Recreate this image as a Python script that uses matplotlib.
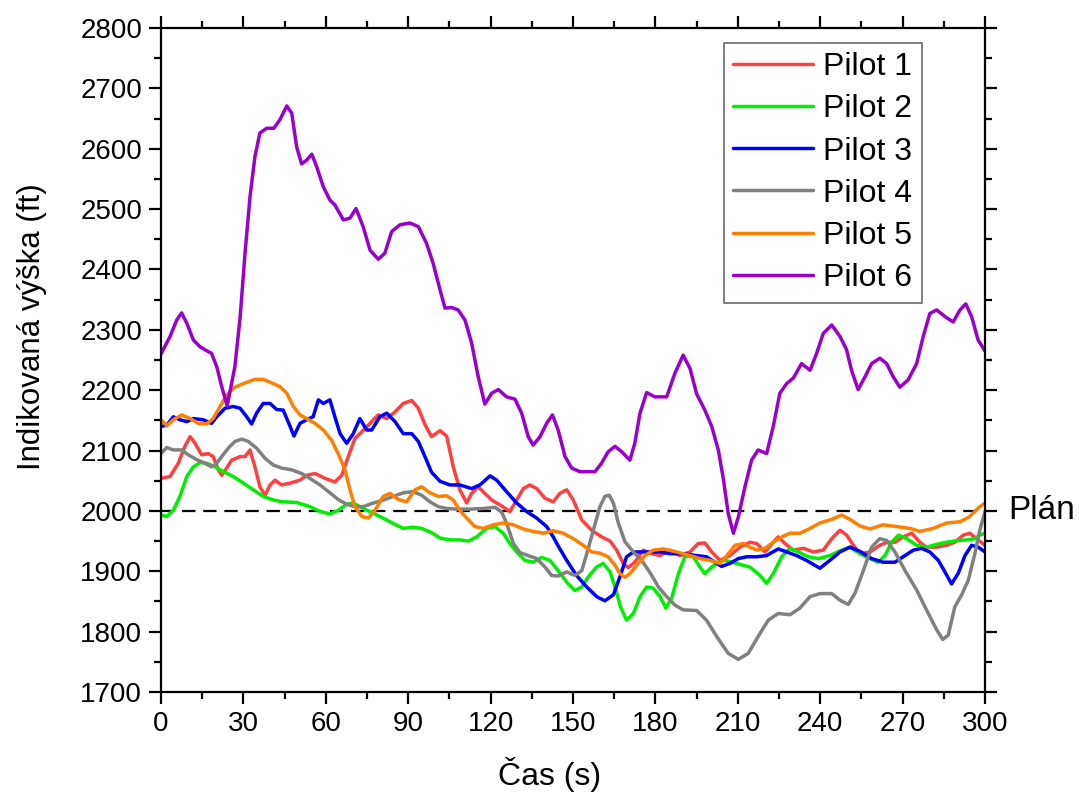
import matplotlib
matplotlib.use("Agg")
import matplotlib.pyplot as plt
from matplotlib.ticker import MultipleLocator

plt.rcParams['font.family'] = ['Liberation Sans', 'DejaVu Sans']

# ---------------- data ----------------
t1 = [0, 3.3, 6.3, 8.7, 10.6, 12.4, 14.8, 17.2, 19, 20.9,
      22.1, 23.9, 25.7, 28.8, 30.6, 32.4, 34.2, 36, 37.9, 39.7,
      41.5, 43.9, 47, 50.6, 53, 56.1, 59.7, 63.3, 65.8, 68.2,
      70.6, 73.1, 76.1, 79.1, 82.2, 85.2, 88.2, 91.3, 93.7, 96.1,
      98.5, 101.6, 104, 106.4, 108.8, 111.3, 113.1, 115.5, 117.9, 120.4,
      123.4, 127, 129.5, 131.9, 134.3, 136.8, 139.8, 142.8, 145.2, 147.7,
      150.1, 153.2, 156.8, 160.4, 163.5, 165.9, 168.3, 170.1, 172.5, 175.6,
      178, 181.7, 185.3, 188.9, 192.6, 195.6, 198, 200.5, 203.5, 207.1,
      210.8, 214.4, 216.9, 219.9, 222.9, 224.7, 227.2, 230.2, 233.9, 237.5,
      241.1, 244.2, 247.2, 249.6, 252.1, 254.5, 258.1, 261.7, 264.2, 267.2,
      270.2, 273.3, 276.3, 278.7, 282.4, 286, 289, 292.1, 294.5, 296.9,
      300]
alt1 = [2054, 2057, 2079, 2107, 2123, 2112, 2093, 2095, 2090, 2068,
        2059, 2071, 2084, 2090, 2090, 2101, 2073, 2040, 2026, 2043,
        2051, 2043, 2046, 2051, 2059, 2062, 2054, 2048, 2059, 2090,
        2120, 2131, 2145, 2159, 2153, 2164, 2178, 2183, 2170, 2143,
        2123, 2133, 2124, 2073, 2035, 2013, 2029, 2040, 2029, 2018,
        2010, 1999, 2018, 2037, 2043, 2037, 2021, 2015, 2029, 2035,
        2018, 1985, 1968, 1957, 1950, 1935, 1913, 1906, 1915, 1935,
        1930, 1926, 1935, 1926, 1932, 1946, 1947, 1932, 1918, 1926,
        1940, 1948, 1946, 1932, 1948, 1957, 1946, 1935, 1938, 1932,
        1935, 1954, 1968, 1960, 1943, 1929, 1932, 1943, 1948, 1948,
        1957, 1963, 1948, 1940, 1940, 1943, 1948, 1960, 1963, 1954,
        1943]

t2 = [0, 2.1, 4.5, 6.9, 9.4, 11.8, 14.2, 16.6, 19.7, 22.7,
      26.3, 30, 33.6, 37.2, 40.9, 44.5, 49.4, 54.2, 57.9, 61.5,
      64.5, 67.6, 70, 73.6, 77.3, 80.9, 84.6, 88.2, 91.8, 94.9,
      98.5, 101.6, 105.2, 108.8, 111.9, 114.9, 118.6, 121.6, 124.6, 127,
      129.5, 132.5, 135.5, 138.6, 141.6, 144.6, 147.7, 150.7, 153.2, 155.6,
      158.6, 161, 163.5, 165.3, 167.3, 169.5, 172, 174.4, 176.8, 179.2,
      181.7, 183.8, 185.9, 188.3, 190.8, 193.8, 196.2, 198, 200.5, 202.9,
      205.4, 209.6, 214.4, 218.1, 220.5, 222.9, 226, 229, 232, 235.7,
      239.3, 243.5, 247.8, 250.8, 254.5, 258.1, 261.1, 263.6, 266, 268.5,
      271.5, 275.1, 278.7, 283.6, 288.4, 293.3, 296.3, 298.1, 300]
alt2 = [1993, 1991, 2001, 2024, 2057, 2073, 2080, 2079, 2073, 2065,
        2057, 2046, 2035, 2024, 2018, 2015, 2014, 2007, 1999, 1995,
        2001, 2011, 2013, 2004, 1996, 1988, 1979, 1971, 1973, 1971,
        1964, 1955, 1952, 1952, 1950, 1957, 1971, 1974, 1963, 1946,
        1932, 1918, 1915, 1923, 1918, 1901, 1882, 1868, 1874, 1891,
        1907, 1913, 1899, 1874, 1841, 1819, 1830, 1858, 1874, 1872,
        1858, 1839, 1855, 1895, 1925, 1924, 1907, 1896, 1907, 1915,
        1918, 1913, 1907, 1893, 1880, 1896, 1924, 1938, 1932, 1924,
        1921, 1926, 1935, 1940, 1929, 1921, 1915, 1926, 1948, 1960,
        1954, 1943, 1940, 1946, 1950, 1952, 1954, 1960, 1963]

t3 = [0, 2.1, 4.5, 6.9, 9.4, 11.8, 15.4, 18.4, 20.3, 23.3,
      26.3, 28.8, 31.2, 33, 34.8, 37.2, 39.7, 42.1, 44.5, 47,
      48.4, 50.6, 53, 55.4, 57.3, 59.1, 61.5, 63.3, 65.2, 67.6,
      70, 72.4, 74.9, 76.7, 79.7, 82.2, 85.2, 88.2, 91.3, 93.7,
      96.1, 98.5, 101.6, 105.2, 108.8, 113.1, 116.1, 119.8, 122.2, 125.8,
      129.5, 133.1, 136.8, 140.4, 142.8, 144.6, 147.7, 151.3, 155, 158.6,
      161.6, 164.7, 167.1, 169.5, 172, 175.6, 179.2, 181.7, 185.3, 190.1,
      195, 198.6, 201.7, 204.1, 207.1, 210.2, 213.2, 216.9, 220.5, 224.7,
      227.8, 231.4, 235, 239.9, 243.5, 247.2, 250.8, 254.5, 258.7, 262.9,
      267.2, 270.2, 273.9, 276.9, 279.9, 283, 285.4, 287.8, 290.3, 292.7,
      295.1, 297.5, 300]
alt3 = [2140, 2142, 2156, 2151, 2148, 2153, 2151, 2145, 2156, 2170,
        2173, 2170, 2156, 2144, 2162, 2178, 2178, 2168, 2167, 2140,
        2124, 2145, 2151, 2156, 2184, 2178, 2184, 2156, 2128, 2112,
        2128, 2153, 2134, 2134, 2156, 2162, 2148, 2128, 2128, 2115,
        2090, 2064, 2049, 2043, 2043, 2037, 2043, 2058, 2051, 2032,
        2013, 1999, 1988, 1974, 1957, 1942, 1918, 1893, 1874, 1858,
        1851, 1861, 1891, 1924, 1932, 1932, 1932, 1932, 1929, 1929,
        1926, 1924, 1915, 1908, 1913, 1921, 1924, 1924, 1926, 1937,
        1932, 1926, 1918, 1905, 1918, 1932, 1940, 1933, 1921, 1915,
        1915, 1924, 1935, 1938, 1932, 1918, 1899, 1879, 1897, 1926,
        1943, 1940, 1932]

t4 = [0, 2.1, 4.5, 7.5, 9.9, 13, 16, 18.4, 20.3, 22.1,
      24.5, 26.9, 29.4, 31.8, 34.8, 37.9, 40.9, 43.9, 47.6, 51.2,
      54.2, 57.9, 61.5, 64.5, 67.6, 70.6, 73.6, 77.3, 80.9, 84.6,
      88.2, 91.8, 94.9, 97.9, 101, 104, 107.6, 112.5, 117.3, 121.6,
      124, 125.8, 128.3, 130.7, 133.7, 136.8, 139.8, 142.2, 144.6, 147.7,
      150.7, 153.2, 155, 157.4, 159.8, 161.6, 163.2, 164.7, 166.5, 168.9,
      172, 175, 178, 181.1, 184.1, 187.1, 190.1, 195, 198.6, 202.3,
      206.5, 210.2, 213.8, 217.4, 221.1, 224.7, 229, 232.6, 236.3, 239.9,
      244.2, 247.2, 250.2, 252.6, 255.7, 258.7, 261.7, 264.2, 267.2, 270.9,
      275.1, 278.7, 282.4, 284.6, 286.6, 289, 291.5, 293.9, 296.3, 298.1,
      300]
alt4 = [2095, 2105, 2101, 2101, 2093, 2085, 2079, 2073, 2079, 2090,
        2104, 2115, 2119, 2115, 2104, 2087, 2076, 2071, 2068, 2062,
        2054, 2043, 2030, 2019, 2011, 2007, 2007, 2013, 2018, 2024,
        2030, 2032, 2026, 2015, 2007, 2004, 2003, 2003, 2004, 2006,
        1998, 1980, 1946, 1931, 1926, 1921, 1907, 1893, 1892, 1899,
        1893, 1901, 1929, 1968, 2007, 2024, 2026, 2013, 1980, 1949,
        1932, 1918, 1898, 1874, 1858, 1844, 1836, 1835, 1819, 1792,
        1764, 1754, 1764, 1792, 1819, 1830, 1828, 1839, 1858, 1863,
        1863, 1852, 1845, 1863, 1901, 1940, 1954, 1951, 1932, 1901,
        1869, 1836, 1803, 1787, 1794, 1841, 1861, 1885, 1929, 1968,
        1999]

t5 = [0, 2.1, 4.5, 7.5, 10.6, 13.6, 16.6, 19, 21.5, 23.9,
      26.9, 30.6, 34.2, 37.2, 40.3, 43.3, 45.8, 48.2, 50.6, 53,
      56.1, 59.1, 62.1, 64.5, 67, 68.8, 70.6, 73.1, 75.5, 77.9,
      80.9, 83.4, 86.4, 89.4, 92.5, 94.9, 97.9, 101, 104, 106.4,
      108.8, 111.3, 114.3, 117.3, 121, 124.6, 128.3, 131.9, 135.5, 139.2,
      142.8, 146.5, 150.1, 153.7, 156.8, 159.8, 162.8, 165.3, 167.1, 168.9,
      170.7, 173.2, 176.2, 179.2, 182.9, 187.7, 192.6, 196.2, 199.9, 203.5,
      206, 209, 212, 214.4, 216.9, 219.9, 222.9, 226, 229, 232.6,
      236.3, 239.9, 244.2, 247.8, 250.8, 254.5, 258.1, 262.9, 267.8, 272.7,
      276.3, 281.1, 286, 290.9, 293.9, 296.3, 298.1, 300]
alt5 = [2151, 2141, 2151, 2159, 2153, 2145, 2144, 2153, 2173, 2192,
        2205, 2212, 2218, 2218, 2212, 2206, 2195, 2173, 2159, 2153,
        2145, 2134, 2117, 2095, 2068, 2035, 2007, 1991, 1988, 2001,
        2024, 2029, 2019, 2015, 2035, 2040, 2030, 2024, 2025, 2018,
        2001, 1988, 1974, 1971, 1977, 1980, 1977, 1970, 1966, 1963,
        1967, 1963, 1954, 1943, 1932, 1930, 1924, 1910, 1896, 1890,
        1896, 1910, 1926, 1935, 1937, 1932, 1926, 1921, 1918, 1913,
        1926, 1943, 1946, 1940, 1935, 1938, 1948, 1957, 1963, 1963,
        1971, 1980, 1986, 1993, 1986, 1975, 1970, 1977, 1974, 1971,
        1966, 1971, 1980, 1982, 1989, 1999, 2007, 2013]

t6 = [0, 3.3, 5.7, 7.5, 9.4, 11.8, 14.2, 16, 18.4, 20.3,
      22.1, 24.1, 26.9, 28.8, 30.6, 32.4, 34.2, 36, 38.5, 41.1,
      43.3, 45.8, 47.6, 49.4, 51.2, 53, 54.9, 56.7, 59.1, 61.5,
      63.3, 66.4, 68.8, 71, 73.6, 76.1, 79.1, 81.5, 84, 87,
      90.6, 93.7, 96.7, 99.1, 101.6, 103.4, 105.8, 108.2, 110.7, 113.1,
      115.5, 117.9, 120.4, 122.8, 125.8, 128.9, 131.3, 133.7, 135.5, 138,
      140.4, 142.5, 144.6, 147.1, 149.5, 152.5, 155.6, 158, 160.4, 162.8,
      165.3, 167.7, 170.7, 172.5, 174.4, 176.8, 179.8, 184.1, 187.1, 190.1,
      192.6, 195, 198, 200.5, 202.9, 204.8, 206.5, 208.4, 210.2, 212.6,
      215, 217.4, 220.5, 222.9, 225.3, 227.8, 230.2, 233.2, 236.3, 238.7,
      241.1, 244.2, 247.2, 249.6, 251.4, 253.8, 256.3, 258.7, 261.7, 264.2,
      266.6, 269, 272, 275.1, 277.5, 279.9, 282.4, 285.4, 288.4, 290.9,
      293, 295.1, 297.5, 300]
alt6 = [2260, 2289, 2316, 2328, 2311, 2283, 2272, 2267, 2261, 2239,
        2206, 2174, 2239, 2320, 2427, 2520, 2587, 2626, 2634, 2634,
        2648, 2671, 2659, 2603, 2575, 2581, 2591, 2570, 2537, 2515,
        2507, 2482, 2485, 2501, 2471, 2432, 2417, 2427, 2463, 2474,
        2477, 2471, 2443, 2410, 2366, 2336, 2337, 2333, 2316, 2278,
        2222, 2177, 2195, 2201, 2189, 2185, 2162, 2123, 2109, 2123,
        2145, 2159, 2134, 2090, 2071, 2065, 2065, 2065, 2079, 2098,
        2107, 2098, 2084, 2112, 2162, 2196, 2189, 2189, 2228, 2258,
        2236, 2194, 2167, 2140, 2101, 2051, 1996, 1963, 1990, 2040,
        2084, 2101, 2095, 2140, 2195, 2211, 2220, 2244, 2233, 2261,
        2294, 2308, 2289, 2267, 2233, 2201, 2222, 2244, 2253, 2244,
        2222, 2205, 2217, 2244, 2289, 2327, 2333, 2322, 2313, 2333,
        2343, 2322, 2283, 2265]

labels = ["Pilot 1", "Pilot 2", "Pilot 3", "Pilot 4", "Pilot 5", "Pilot 6"]
plan_value = 2000
x_ticks = [0, 30, 60, 90, 120, 150, 180, 210, 240, 270, 300]
y_ticks = [1700, 1800, 1900, 2000, 2100, 2200, 2300, 2400, 2500, 2600, 2700, 2800]

# ---------------- style ----------------
colors = ["#ff4040", "#00ee00", "#0000ff", "#808080", "#ff8000", "#9900cc"]
series = [(t1, alt1), (t2, alt2), (t3, alt3), (t4, alt4), (t5, alt5), (t6, alt6)]

fig = plt.figure(figsize=(10.79, 8.01), dpi=100)
ax = fig.add_axes([0.1492, 0.1361, 0.7637, 0.8289])

for (tt, aa), c, lab in zip(series, colors, labels):
    ax.plot(tt, aa, color=c, lw=2.5, label=lab,
            solid_joinstyle='round', solid_capstyle='round')

ax.axhline(plan_value, color='black', lw=1.6, dashes=(6, 3.5), zorder=1)
ax.text(1.028, (plan_value - 1700) / 1100, "Plán", transform=ax.transAxes,
        fontsize=24, va='center', ha='left')

ax.set_xlim(0, 300)
ax.set_ylim(1700, 2800)
ax.set_xticks(x_ticks)
ax.set_yticks(y_ticks)
ax.xaxis.set_minor_locator(MultipleLocator(15))
ax.yaxis.set_minor_locator(MultipleLocator(50))
ax.tick_params(which='both', direction='out', top=True, right=True,
               labeltop=False, labelright=False, width=1.6)
ax.tick_params(which='major', length=8.5, labelsize=20, pad=5)
ax.tick_params(which='minor', length=5)
for s in ax.spines.values():
    s.set_linewidth(1.6)

ax.set_xlabel("Čas (s)", fontsize=23)
ax.xaxis.set_label_coords(0.472, -0.098)
ax.set_ylabel("Indikovaná výška (ft)", fontsize=22.5)
ax.yaxis.set_label_coords(-0.138, 0.55)

leg = ax.legend(loc='upper left', bbox_to_anchor=(0.683, 0.978), fontsize=23,
                frameon=True, fancybox=False, edgecolor='#444444',
                handlelength=2.5, handletextpad=0.3, labelspacing=0.38,
                borderpad=0.3, borderaxespad=0)
leg.get_frame().set_linewidth(1.2)

fig.savefig("out.png", dpi=100)
